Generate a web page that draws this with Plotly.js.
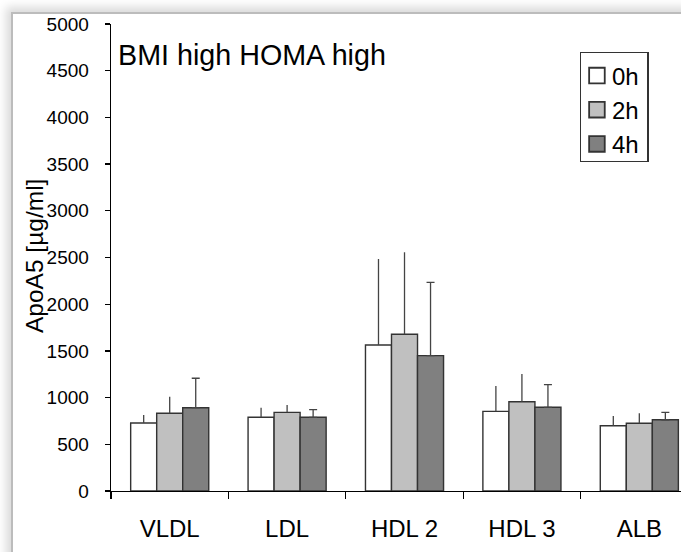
<!DOCTYPE html>
<html>
<head>
<meta charset="utf-8">
<script src="https://cdn.plot.ly/plotly-3.0.1.min.js"></script>
<style>
  html, body { margin: 0; padding: 0; width: 681px; height: 552px; overflow: hidden; background: #ffffff; }
  #frame {
    position: absolute; left: 11px; top: 12px; width: 720px; height: 600px;
    background: #ffffff;
    border-left: 2px solid #bcbcbc; border-top: 2px solid #bcbcbc;
    box-shadow: -5px -5px 9px rgba(0,0,0,0.15);
  }
  #chart { position: absolute; left: 0; top: 0; width: 681px; height: 552px; }
</style>
</head>
<body>
<div id="frame"></div>
<div id="chart"></div>
<script>
// ApoA5 concentration per lipoprotein fraction, mean with upper SD, at 0h / 2h / 4h
var categories = ['VLDL', 'LDL', 'HDL 2', 'HDL 3', 'ALB'];
var seriesNames = ['0h', '2h', '4h'];

var mean0h = [728, 789, 1563, 853, 699];
var mean2h = [832, 842, 1678, 956, 725];
var mean4h = [892, 789, 1449, 896, 763];

var sd0h = [86, 103, 921, 271, 104];
var sd2h = [178, 79, 878, 297, 107];
var sd4h = [315, 82, 785, 242, 79];

var yTicks = [0, 500, 1000, 1500, 2000, 2500, 3000, 3500, 4000, 4500, 5000];

var FONT = 'Liberation Sans, Arial, Helvetica, sans-serif';
var fills = ['#ffffff', '#c0c0c0', '#808080'];
var capWidths = [0, 0, 4];
var means = [mean0h, mean2h, mean4h];
var sds = [sd0h, sd2h, sd4h];

var traces = seriesNames.map(function (name, i) {
  return {
    type: 'bar',
    name: name,
    legendgroup: name,
    x: categories,
    y: means[i],
    marker: { color: fills[i], line: { color: '#333333', width: 1.4 } },
    error_y: {
      type: 'data',
      symmetric: false,
      array: sds[i],
      arrayminus: categories.map(function () { return 0; }),
      color: '#444444',
      thickness: 1.3,
      width: capWidths[i]
    },
    hoverinfo: 'skip'
  };
});

var layout = {
  width: 681,
  height: 552,
  margin: { l: 111, r: 0, t: 24, b: 61, pad: 0 },
  paper_bgcolor: 'rgba(0,0,0,0)',
  plot_bgcolor: 'rgba(0,0,0,0)',
  font: { family: FONT, color: '#000000' },
  barmode: 'group',
  bargap: 0.335,
  bargroupgap: 0,
  showlegend: true,
  title: {
    text: 'BMI high HOMA high',
    font: { family: FONT, size: 28.7, color: '#000000' },
    xref: 'container', yref: 'container',
    x: 118 / 681, xanchor: 'left',
    y: 1 - 55 / 552, yanchor: 'middle'
  },
  legend: {
    x: 0.822, xanchor: 'left',
    y: 0.94, yanchor: 'top',
    bgcolor: '#ffffff',
    bordercolor: '#333333',
    borderwidth: 1.4,
    font: { family: FONT, size: 24, color: '#000000' },
    tracegroupgap: 4,
    traceorder: 'normal'
  },
  annotations: [{
    text: 'ApoA5 [µg/ml]',
    textangle: -90,
    xref: 'paper', yref: 'paper',
    x: (34 - 111) / 570, xanchor: 'center',
    y: (491 - 256) / 467, yanchor: 'middle',
    showarrow: false,
    font: { family: FONT, size: 24.5, color: '#000000' }
  }],
  xaxis: {
    type: 'category',
    range: [-0.5, 4.355],
    showline: true,
    linecolor: '#000000',
    linewidth: 1.3,
    ticks: 'outside',
    tickson: 'boundaries',
    ticklen: 7,
    tickcolor: '#000000',
    tickwidth: 1.3,
    showgrid: false,
    zeroline: false,
    tickfont: { family: FONT, size: 24, color: '#000000' },
    ticklabelstandoff: 16
  },
  yaxis: {
    range: [0, 5000],
    tickvals: yTicks,
    ticktext: yTicks.map(String),
    showline: true,
    linecolor: '#000000',
    linewidth: 1.3,
    ticks: 'outside',
    ticklen: 5,
    tickcolor: '#000000',
    tickwidth: 1.3,
    showgrid: false,
    zeroline: false,
    tickfont: { family: FONT, size: 19, color: '#000000' },
    ticklabelstandoff: 12,
    automargin: false
  }
};

Plotly.newPlot('chart', traces, layout, { staticPlot: true, displayModeBar: false }).then(function () {
  // tighter legend: bigger swatches, text closer to them, smaller box
  document.querySelectorAll('#chart .legend .legendpoints path').forEach(function (p) {
    var t = p.getAttribute('transform') || '';
    p.setAttribute('transform', 'translate(-4,0) ' + t + ' scale(1.3)');
  });
  document.querySelectorAll('#chart .legend text.legendtext').forEach(function (t) {
    var x = parseFloat(t.getAttribute('x')) || 40;
    t.setAttribute('x', x - 9);
  });
  var bg = document.querySelector('#chart .legend rect.bg');
  if (bg) {
    bg.setAttribute('width', parseFloat(bg.getAttribute('width')) - 6);
    bg.setAttribute('height', parseFloat(bg.getAttribute('height')) - 6);
  }
});
</script>
</body>
</html>
